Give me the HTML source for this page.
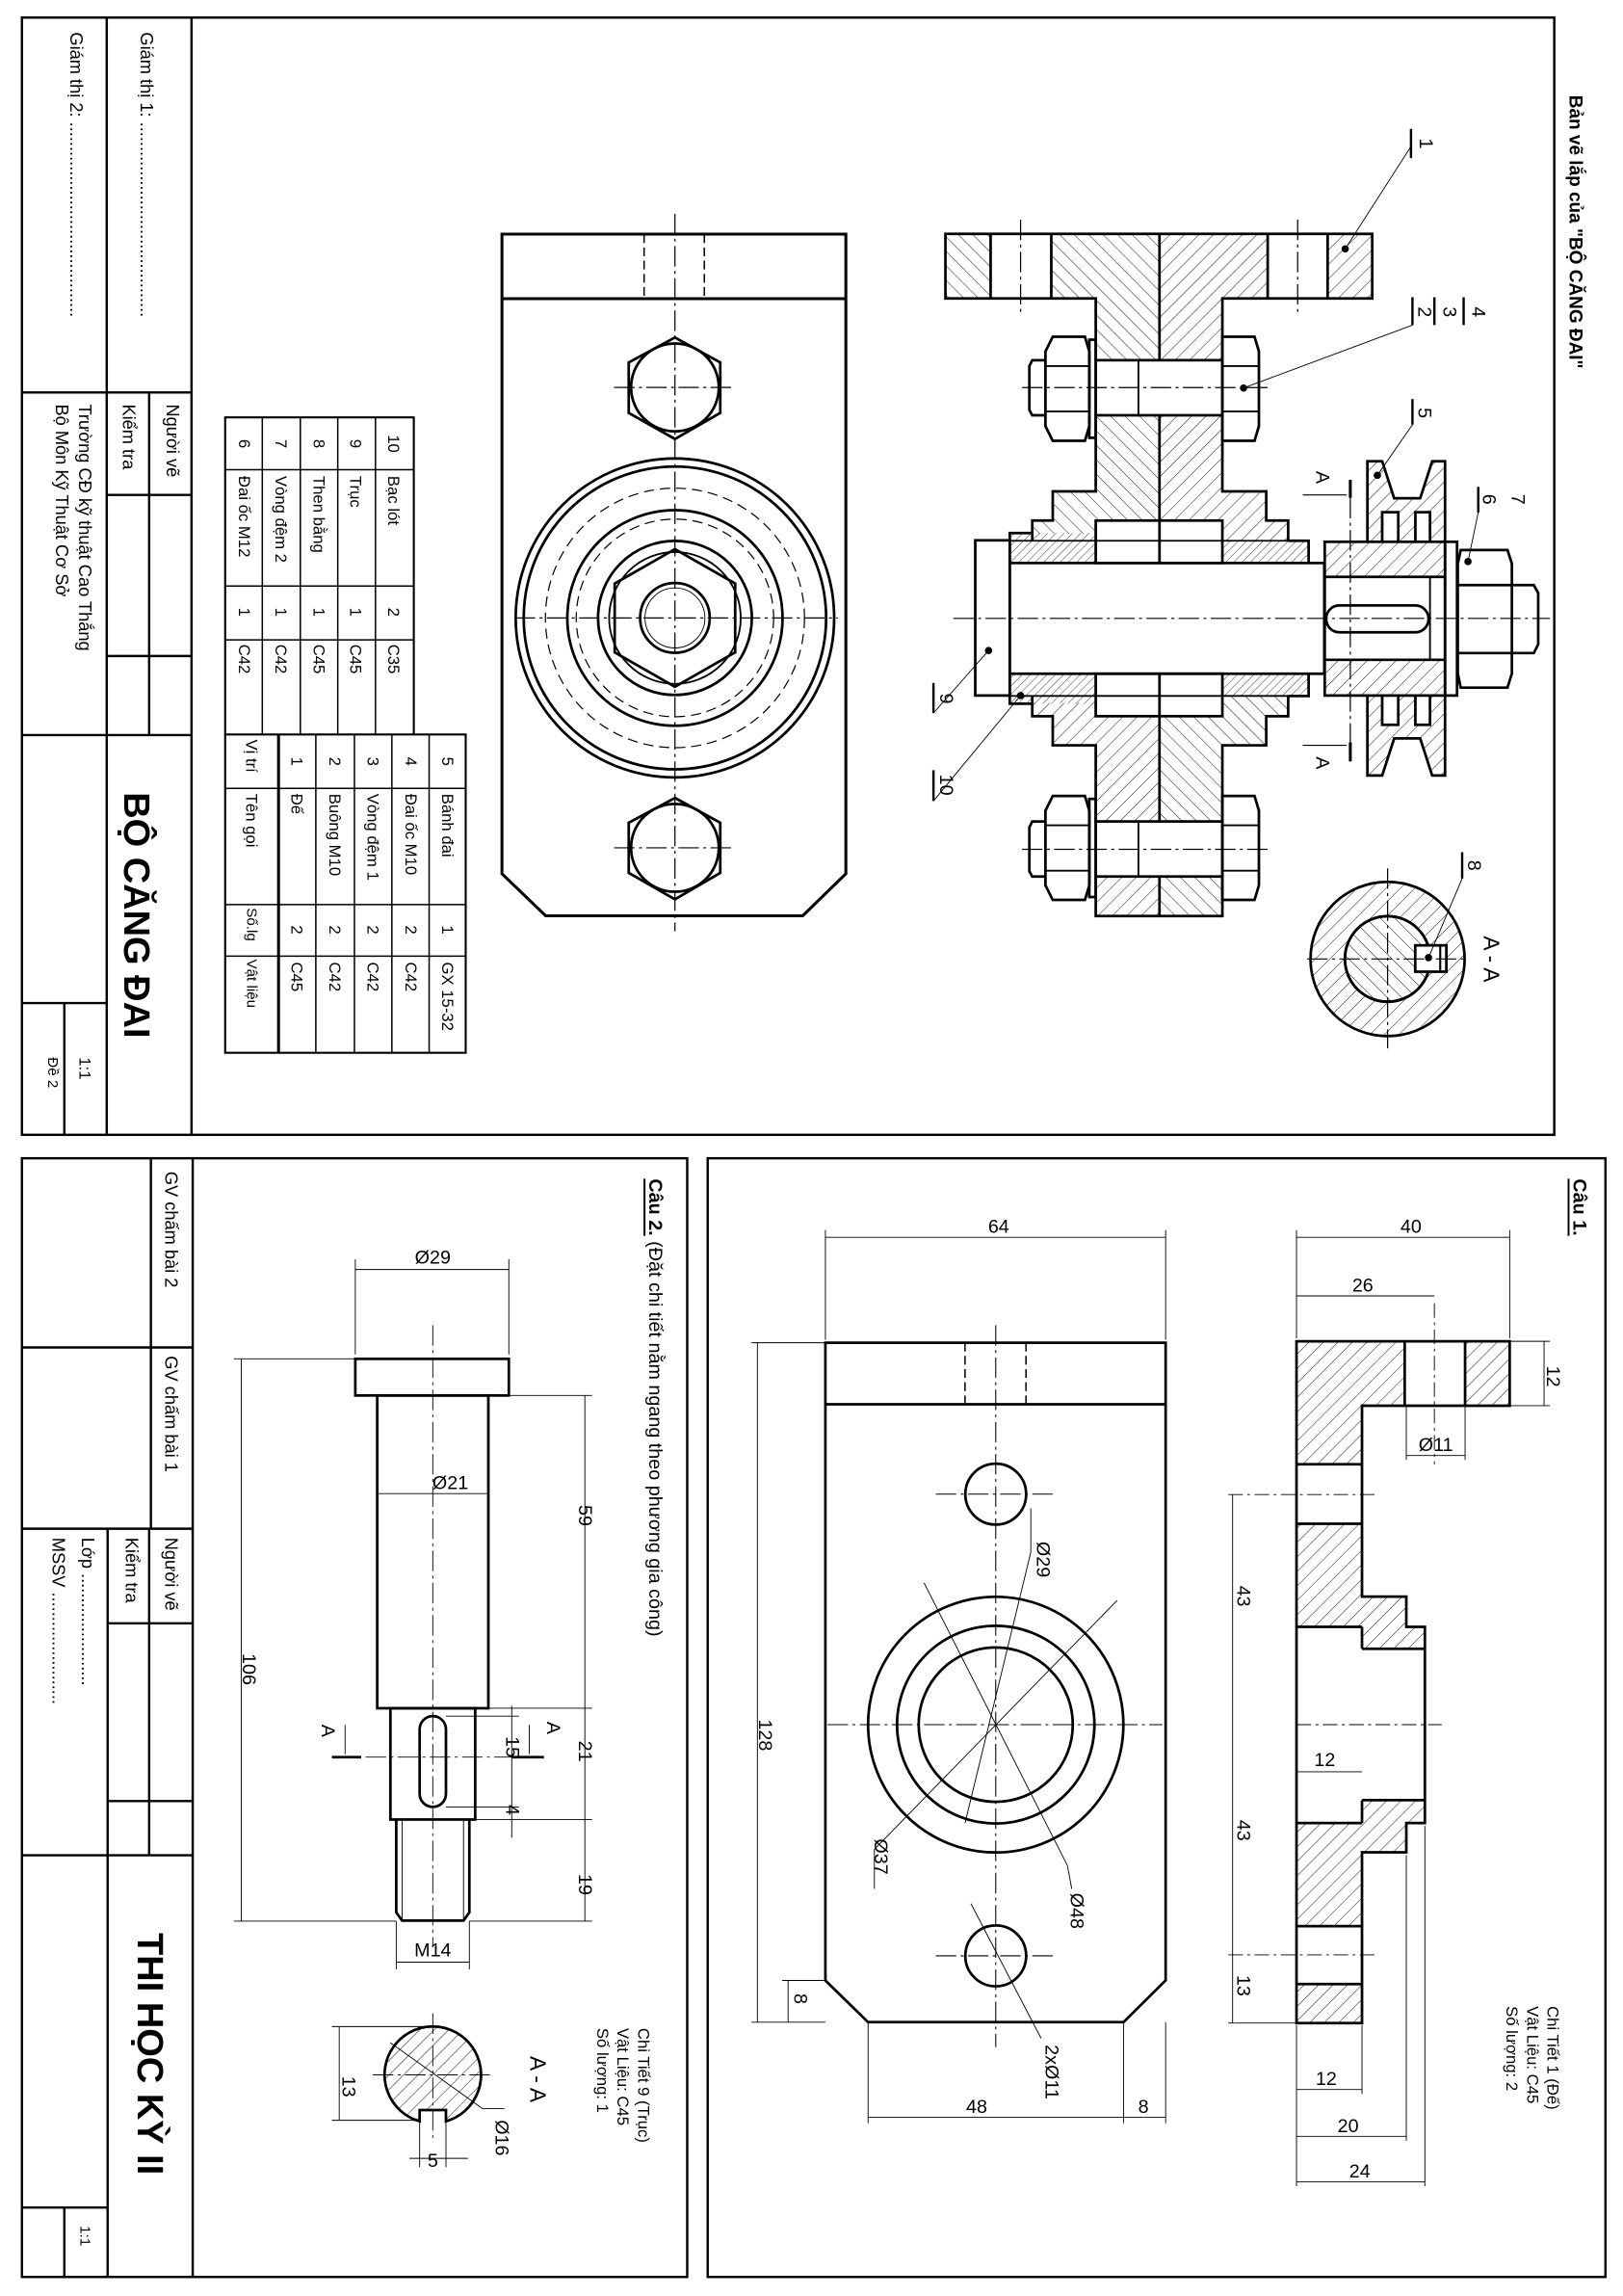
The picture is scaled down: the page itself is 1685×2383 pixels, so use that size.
<!DOCTYPE html>
<html><head><meta charset="utf-8"><style>
html,body{margin:0;padding:0;background:#fff;}
svg{display:block;}
text{font-family:"Liberation Sans","Noto Sans CJK SC",sans-serif;fill:#000;}
</style></head><body>
<svg xmlns="http://www.w3.org/2000/svg" width="1685" height="2383" viewBox="0 0 1110 1568" preserveAspectRatio="none">
<defs>
<pattern id="h1" patternUnits="userSpaceOnUse" width="7" height="7" patternTransform="rotate(45)"><line x1="0" y1="0" x2="0" y2="7" stroke="#000" stroke-width="0.6"/></pattern>
<pattern id="h2" patternUnits="userSpaceOnUse" width="7" height="7" patternTransform="rotate(-45)"><line x1="0" y1="0" x2="0" y2="7" stroke="#000" stroke-width="0.6"/></pattern>
<pattern id="h3" patternUnits="userSpaceOnUse" width="4" height="4" patternTransform="rotate(45)"><line x1="0" y1="0" x2="0" y2="4" stroke="#000" stroke-width="0.5"/></pattern>
</defs>
<rect width="1110" height="1568" fill="#fff"/>

<!-- ================= TOP FRAME ================= -->
<g fill="none" stroke="#000" stroke-width="1.6">
<rect x="15" y="12" width="1048" height="763"/>
<line x1="73" y1="12" x2="73" y2="775"/>
<line x1="131" y1="12" x2="131" y2="775"/>
<line x1="15" y1="268" x2="131" y2="268"/>
<line x1="102" y1="268" x2="102" y2="502"/>
<line x1="73" y1="338" x2="131" y2="338"/>
<line x1="73" y1="448" x2="131" y2="448"/>
<line x1="15" y1="502" x2="131" y2="502"/>
<line x1="15" y1="685" x2="73" y2="685"/>
<line x1="44" y1="685" x2="44" y2="775"/>
</g>
<g font-size="12">
<text transform="translate(100 22) rotate(90)" dominant-baseline="central">Giám thị 1: ........................................</text>
<text transform="translate(52 22) rotate(90)" dominant-baseline="central">Giám thị 2: ........................................</text>
<text transform="translate(118 276) rotate(90)" dominant-baseline="central">Người vẽ</text>
<text transform="translate(88 276) rotate(90)" dominant-baseline="central">Kiểm tra</text>
<text transform="translate(58 276) rotate(90)" dominant-baseline="central">Trường CĐ kỹ thuật Cao Thắng</text>
<text transform="translate(42 276) rotate(90)" dominant-baseline="central">Bộ Môn Kỹ Thuật Cơ Sở</text>
<text transform="translate(58 722) rotate(90)" dominant-baseline="central" font-size="11">1:1</text>
<text transform="translate(36 722) rotate(90)" dominant-baseline="central" font-size="10">Đề 2</text>
</g>
<text transform="translate(93 541) rotate(90)" dominant-baseline="central" font-size="25" font-weight="bold">BỘ CĂNG ĐAI</text>
<text transform="translate(1077 65) rotate(90)" dominant-baseline="central" font-size="12.5" font-weight="bold">Bản vẽ lắp của "BỘ CĂNG ĐAI"</text>

<!-- parts table -->
<g fill="none" stroke="#000" stroke-width="1.4">
<polyline points="283,501.6 283,285 154,285 154,719 318.5,719 318.5,501.6 154,501.6"/>
<line x1="190.5" y1="501.6" x2="190.5" y2="719" stroke-width="2"/>
</g>
<g fill="none" stroke="#000" stroke-width="1">
<line x1="179.4" y1="285" x2="179.4" y2="501.6"/>
<line x1="205.4" y1="285" x2="205.4" y2="501.6"/>
<line x1="231" y1="285" x2="231" y2="501.6"/>
<line x1="256.8" y1="285" x2="256.8" y2="501.6"/>
<line x1="154" y1="320.8" x2="283" y2="320.8"/>
<line x1="154" y1="400.2" x2="283" y2="400.2"/>
<line x1="154" y1="437" x2="283" y2="437"/>
<line x1="216" y1="501.6" x2="216" y2="719"/>
<line x1="242.4" y1="501.6" x2="242.4" y2="719"/>
<line x1="268" y1="501.6" x2="268" y2="719"/>
<line x1="293.5" y1="501.6" x2="293.5" y2="719"/>
<line x1="154" y1="538.4" x2="318.5" y2="538.4"/>
<line x1="154" y1="617.8" x2="318.5" y2="617.8"/>
<line x1="154" y1="653" x2="318.5" y2="653"/>
</g>
<g font-size="11">
<text transform="translate(269 303) rotate(90)" text-anchor="middle" dominant-baseline="central">10</text>
<text transform="translate(269 325) rotate(90)" dominant-baseline="central">Bạc lót</text>
<text transform="translate(269 418) rotate(90)" text-anchor="middle" dominant-baseline="central">2</text>
<text transform="translate(269 440) rotate(90)" dominant-baseline="central">C35</text>
<text transform="translate(243 303) rotate(90)" text-anchor="middle" dominant-baseline="central">9</text>
<text transform="translate(243 325) rotate(90)" dominant-baseline="central">Trục</text>
<text transform="translate(243 418) rotate(90)" text-anchor="middle" dominant-baseline="central">1</text>
<text transform="translate(243 440) rotate(90)" dominant-baseline="central">C45</text>
<text transform="translate(218 303) rotate(90)" text-anchor="middle" dominant-baseline="central">8</text>
<text transform="translate(218 325) rotate(90)" dominant-baseline="central">Then bằng</text>
<text transform="translate(218 418) rotate(90)" text-anchor="middle" dominant-baseline="central">1</text>
<text transform="translate(218 440) rotate(90)" dominant-baseline="central">C45</text>
<text transform="translate(192 303) rotate(90)" text-anchor="middle" dominant-baseline="central">7</text>
<text transform="translate(192 325) rotate(90)" dominant-baseline="central">Vòng đệm 2</text>
<text transform="translate(192 418) rotate(90)" text-anchor="middle" dominant-baseline="central">1</text>
<text transform="translate(192 440) rotate(90)" dominant-baseline="central">C42</text>
<text transform="translate(167 303) rotate(90)" text-anchor="middle" dominant-baseline="central">6</text>
<text transform="translate(167 325) rotate(90)" dominant-baseline="central">Đai ốc M12</text>
<text transform="translate(167 418) rotate(90)" text-anchor="middle" dominant-baseline="central">1</text>
<text transform="translate(167 440) rotate(90)" dominant-baseline="central">C42</text>

<text transform="translate(306 520) rotate(90)" text-anchor="middle" dominant-baseline="central">5</text>
<text transform="translate(306 542) rotate(90)" dominant-baseline="central">Bánh đai</text>
<text transform="translate(306 635) rotate(90)" text-anchor="middle" dominant-baseline="central">1</text>
<text transform="translate(306 657) rotate(90)" dominant-baseline="central">GX 15-32</text>
<text transform="translate(281 520) rotate(90)" text-anchor="middle" dominant-baseline="central">4</text>
<text transform="translate(281 542) rotate(90)" dominant-baseline="central">Đai ốc M10</text>
<text transform="translate(281 635) rotate(90)" text-anchor="middle" dominant-baseline="central">2</text>
<text transform="translate(281 657) rotate(90)" dominant-baseline="central">C42</text>
<text transform="translate(255 520) rotate(90)" text-anchor="middle" dominant-baseline="central">3</text>
<text transform="translate(255 542) rotate(90)" dominant-baseline="central">Vòng đệm 1</text>
<text transform="translate(255 635) rotate(90)" text-anchor="middle" dominant-baseline="central">2</text>
<text transform="translate(255 657) rotate(90)" dominant-baseline="central">C42</text>
<text transform="translate(229 520) rotate(90)" text-anchor="middle" dominant-baseline="central">2</text>
<text transform="translate(229 542) rotate(90)" dominant-baseline="central">Buông M10</text>
<text transform="translate(229 635) rotate(90)" text-anchor="middle" dominant-baseline="central">2</text>
<text transform="translate(229 657) rotate(90)" dominant-baseline="central">C42</text>
<text transform="translate(203 520) rotate(90)" text-anchor="middle" dominant-baseline="central">1</text>
<text transform="translate(203 542) rotate(90)" dominant-baseline="central">Đế</text>
<text transform="translate(203 635) rotate(90)" text-anchor="middle" dominant-baseline="central">2</text>
<text transform="translate(203 657) rotate(90)" dominant-baseline="central">C45</text>
<text transform="translate(172 505) rotate(90)" dominant-baseline="central">Vị trí</text>
<text transform="translate(172 542) rotate(90)" dominant-baseline="central">Tên gọi</text>
<text transform="translate(172 620) rotate(90)" dominant-baseline="central" font-size="10">Số.lg</text>
<text transform="translate(172 655) rotate(90)" dominant-baseline="central" font-size="10">Vật liệu</text>
</g>

<!-- front view (top) -->
<g fill="none" stroke="#000">
<polygon points="343.3,159.9 578.5,159.9 578.5,596.7 549,625.4 373.2,625.4 343.3,596.7" stroke-width="2"/>
<line x1="343.3" y1="204" x2="578.5" y2="204" stroke-width="2"/>
<line x1="440.5" y1="160" x2="440.5" y2="204" stroke-width="1" stroke-dasharray="6 3"/>
<line x1="481.7" y1="160" x2="481.7" y2="204" stroke-width="1" stroke-dasharray="6 3"/>
<line x1="461.6" y1="146" x2="461.6" y2="636" stroke-width="0.8" stroke-dasharray="14 3 2 3"/>
<line x1="352" y1="422" x2="573" y2="422" stroke-width="0.8" stroke-dasharray="14 3 2 3"/>
<line x1="420" y1="264.6" x2="503" y2="264.6" stroke-width="0.8" stroke-dasharray="14 3 2 3"/>
<line x1="420" y1="579" x2="503" y2="579" stroke-width="0.8" stroke-dasharray="14 3 2 3"/>
<polygon points="461.6,230.5 492.6,247.5 492.6,282 461.6,299.8 430,282 430,247.5" stroke-width="1.8"/>
<circle cx="461.6" cy="264.6" r="30" stroke-width="1.8"/>
<polygon points="461.6,544.9 492.6,561.9 492.6,596.1 461.6,614.2 430,596.1 430,561.9" stroke-width="1.8"/>
<circle cx="461.6" cy="579" r="30" stroke-width="1.8"/>
<circle cx="461.6" cy="422" r="108.9" stroke-width="1.8"/>
<circle cx="461.6" cy="422" r="103.4" stroke-width="1.8"/>
<circle cx="461.6" cy="422" r="88.6" stroke-width="0.8" stroke-dasharray="7 4"/>
<circle cx="461.6" cy="422" r="73.6" stroke-width="1.8"/>
<circle cx="461.6" cy="422" r="67.5" stroke-width="0.8" stroke-dasharray="7 4"/>
<circle cx="461.6" cy="422" r="52.6" stroke-width="1.8"/>
<polygon points="461.6,375 502.8,398.5 502.8,445.5 461.6,469 420.4,445.5 420.4,398.5" stroke-width="1.8"/>
<circle cx="461.6" cy="422" r="45" stroke-width="1.2"/>
<circle cx="461.6" cy="422" r="23.8" stroke-width="1.8"/>
<circle cx="461.6" cy="422" r="20.5" stroke-width="0.6"/>
</g>

<!-- section view (top) -->
<g stroke="none">
<rect x="646.6" y="159.7" width="30.9" height="44.1" fill="url(#h2)"/>
<rect x="719" y="159.7" width="74" height="44.1" fill="url(#h2)"/>
<rect x="793" y="159.7" width="74" height="44.1" fill="url(#h1)"/>
<rect x="908" y="159.7" width="30.5" height="44.1" fill="url(#h1)"/>
<rect x="749.4" y="203.8" width="43.6" height="42.2" fill="url(#h2)"/>
<rect x="793" y="203.8" width="43" height="42.2" fill="url(#h1)"/>
<rect x="749.4" y="283.6" width="43.6" height="52" fill="url(#h2)"/>
<rect x="793" y="283.6" width="43" height="52" fill="url(#h1)"/>
<rect x="720" y="335.6" width="73" height="19.9" fill="url(#h2)"/>
<rect x="793" y="335.6" width="73" height="19.9" fill="url(#h1)"/>
<rect x="706" y="355.5" width="43.4" height="9" fill="url(#h2)"/>
<rect x="836" y="355.5" width="45" height="13.8" fill="url(#h1)"/>
<rect x="690.6" y="364" width="58.8" height="20.5" fill="url(#h3)"/>
<rect x="836" y="369.3" width="59" height="15.2" fill="url(#h3)"/>
<rect x="690.6" y="460.1" width="58.8" height="20.5" fill="url(#h3)"/>
<rect x="836" y="460.1" width="59" height="15.2" fill="url(#h3)"/>
<rect x="706" y="480.1" width="43.4" height="9" fill="url(#h1)"/>
<rect x="836" y="475.3" width="45" height="13.8" fill="url(#h2)"/>
<rect x="720" y="489.1" width="73" height="19.9" fill="url(#h1)"/>
<rect x="793" y="489.1" width="73" height="19.9" fill="url(#h2)"/>
<rect x="749.4" y="509" width="43.6" height="52" fill="url(#h1)"/>
<rect x="793" y="509" width="43" height="52" fill="url(#h2)"/>
<rect x="749.4" y="598.6" width="43.6" height="27" fill="url(#h1)"/>
<rect x="793" y="598.6" width="43" height="27" fill="url(#h2)"/>
<rect x="906" y="370" width="82" height="24" fill="url(#h1)"/>
<rect x="906" y="450.6" width="82" height="24.4" fill="url(#h1)"/>
<polygon points="935.2,315 945.3,315 953.5,340.3 971.3,340.3 979.5,315 988.3,315 988.3,370 935.2,370" fill="url(#h1)"/>
<polygon points="935.2,529.6 945.3,529.6 953.5,504.3 971.3,504.3 979.5,529.6 988.3,529.6 988.3,475 935.2,475" fill="url(#h1)"/>
<rect x="945.3" y="349.8" width="11" height="20.2" fill="#fff"/>
<rect x="968" y="349.8" width="10" height="20.2" fill="#fff"/>
<rect x="945.3" y="475" width="11" height="20" fill="#fff"/>
<rect x="968" y="475" width="10" height="20" fill="#fff"/>
</g>
<g fill="none" stroke="#000" stroke-width="1.8">
<polyline points="749.4,246 749.4,203.8 646.6,203.8 646.6,159.7 938.5,159.7 938.5,203.8 836,203.8 836,246"/>
<line x1="677.5" y1="159.7" x2="677.5" y2="203.8"/>
<line x1="719" y1="159.7" x2="719" y2="203.8"/>
<line x1="867" y1="159.7" x2="867" y2="203.8"/>
<line x1="908" y1="159.7" x2="908" y2="203.8"/>
<line x1="793" y1="159.7" x2="793" y2="246"/>
<line x1="793" y1="283.6" x2="793" y2="384.5"/>
<line x1="793" y1="460.1" x2="793" y2="561"/>
<line x1="793" y1="598.6" x2="793" y2="625.6"/>
<polyline points="749.4,283.6 749.4,335.6 720,335.6 720,355.5 706,355.5 706,369.3"/>
<polyline points="836,283.6 836,335.6 866,335.6 866,355.5 881,355.5 881,369.3"/>
<polyline points="690.6,384.5 690.6,364 706,364"/>
<line x1="690.6" y1="369.3" x2="895" y2="369.3" stroke-width="1.2"/>
<polyline points="881,369.3 895,369.3 895,384.5"/>
<rect x="749.4" y="355.5" width="86.6" height="29"/>
<polyline points="749.4,561 749.4,509 720,509 720,489.1 706,489.1 706,475.3"/>
<polyline points="836,561 836,509 866,509 866,489.1 881,489.1 881,475.3"/>
<polyline points="690.6,460.1 690.6,480.6 706,480.6"/>
<line x1="690.6" y1="475.3" x2="895" y2="475.3" stroke-width="1.2"/>
<polyline points="881,475.3 895,475.3 895,460.1"/>
<rect x="749.4" y="460.1" width="86.6" height="29"/>
<polyline points="749.4,598.6 749.4,625.6 836,625.6 836,598.6"/>
<rect x="690.6" y="384.5" width="215.1" height="75.6"/>
<rect x="667" y="369" width="23.6" height="106"/>
<rect x="749.4" y="246" width="86.6" height="37.6"/>
<line x1="778.6" y1="246" x2="778.6" y2="283.6" stroke-width="1.2"/>
<path d="M715 240 L720 230 L742 230 L745 240 L745 291 L742 301 L720 301 L715 291 Z"/>
<line x1="715" y1="250" x2="745" y2="250" stroke-width="1.2"/>
<line x1="715" y1="281" x2="745" y2="281" stroke-width="1.2"/>
<rect x="745" y="232" width="4.4" height="67"/>
<path d="M715 246 L706 246 L704 250 L704 280 L706 283.6 L715 283.6"/>
<path d="M836 230 L858 230 L861 240 L861 291 L858 301 L836 301 Z"/>
<line x1="836" y1="250" x2="861" y2="250" stroke-width="1.2"/>
<line x1="836" y1="281" x2="861" y2="281" stroke-width="1.2"/>
<rect x="749.4" y="561" width="86.6" height="37.6"/>
<line x1="778.6" y1="561" x2="778.6" y2="598.6" stroke-width="1.2"/>
<path d="M715 553.6 L720 543.6 L742 543.6 L745 553.6 L745 604.6 L742 614.6 L720 614.6 L715 604.6 Z"/>
<line x1="715" y1="563.6" x2="745" y2="563.6" stroke-width="1.2"/>
<line x1="715" y1="594.6" x2="745" y2="594.6" stroke-width="1.2"/>
<rect x="745" y="545.6" width="4.4" height="67"/>
<path d="M715 561 L706 561 L704 565 L704 595 L706 598.6 L715 598.6"/>
<path d="M836 543.6 L858 543.6 L861 553.6 L861 604.6 L858 614.6 L836 614.6 Z"/>
<line x1="836" y1="563.6" x2="861" y2="563.6" stroke-width="1.2"/>
<line x1="836" y1="594.6" x2="861" y2="594.6" stroke-width="1.2"/>
<rect x="906" y="370" width="82.3" height="105"/>
<line x1="906" y1="394" x2="988" y2="394"/>
<line x1="906" y1="450.6" x2="988" y2="450.6"/>
<rect x="988.3" y="370" width="8.2" height="105"/>
<line x1="978" y1="394" x2="978" y2="450.6" stroke-width="1.2"/>
<polyline points="935.2,370 935.2,315 945.3,315 953.5,340.3 971.3,340.3 979.5,315 988.3,315 988.3,370"/>
<polyline points="945.3,370 945.3,349.8 956.3,349.8 956.3,370"/>
<polyline points="968,370 968,349.8 978,349.8 978,370"/>
<polyline points="935.2,475 935.2,529.6 945.3,529.6 953.5,504.3 971.3,504.3 979.5,529.6 988.3,529.6 988.3,475"/>
<polyline points="945.3,475 945.3,495 956.3,495 956.3,475"/>
<polyline points="968,475 968,495 978,495 978,475"/>
<rect x="907" y="413.5" width="70" height="18.3" rx="9"/>
<path d="M999 375.6 L1031 375.6 L1034 385 L1034 460 L1031 469.6 L999 469.6 L997 460 L997 385 Z"/>
<line x1="997" y1="399.6" x2="1034" y2="399.6"/>
<line x1="997" y1="446" x2="1034" y2="446"/>
<path d="M1034 399.6 L1049 399.6 L1052 405 L1052 440 L1049 446 L1034 446"/>
<circle cx="949" cy="654.9" r="52.7" fill="url(#h1)"/>
<circle cx="949" cy="654.9" r="29.2" fill="#fff"/>
<circle cx="949" cy="654.9" r="29.2" fill="url(#h2)"/>
<rect x="967.9" y="645.6" width="21.3" height="18" fill="#fff"/>
<line x1="985" y1="645.6" x2="985" y2="663.6" stroke-width="1.4"/>
</g>
<g fill="none" stroke="#000" stroke-width="0.8" stroke-dasharray="14 3 2 3">
<line x1="652" y1="422.3" x2="1060" y2="422.3"/>
<line x1="699" y1="264.7" x2="869" y2="264.7"/>
<line x1="699" y1="580" x2="869" y2="580"/>
<line x1="698" y1="150" x2="698" y2="213"/>
<line x1="887.5" y1="150" x2="887.5" y2="213"/>
<line x1="949" y1="593" x2="949" y2="716"/>
<line x1="894" y1="654.9" x2="1004" y2="654.9"/>
<line x1="923.5" y1="340" x2="923.5" y2="507"/>
</g>
<g stroke="#000" fill="none">
<line x1="923.5" y1="327.7" x2="923.5" y2="340" stroke-width="2"/>
<line x1="923.5" y1="507" x2="923.5" y2="520" stroke-width="2"/>
<line x1="891" y1="338" x2="921" y2="338" stroke-width="0.7"/>
<line x1="891" y1="509" x2="921" y2="509" stroke-width="0.7"/>
<line x1="965" y1="100" x2="920" y2="170" stroke-width="0.6"/>
<line x1="966" y1="222" x2="850.5" y2="265" stroke-width="0.6"/>
<line x1="966" y1="290" x2="942" y2="324.6" stroke-width="0.6"/>
<line x1="1011" y1="350" x2="1004" y2="383.5" stroke-width="0.6"/>
<line x1="638.4" y1="487" x2="676.1" y2="444.3" stroke-width="0.6"/>
<line x1="638.4" y1="547" x2="698" y2="475" stroke-width="0.6"/>
<line x1="1000" y1="600" x2="977" y2="654" stroke-width="0.6"/>
<g stroke-width="1.6">
<line x1="965" y1="88" x2="965" y2="108"/>
<line x1="966" y1="203" x2="966" y2="222"/>
<line x1="981" y1="203" x2="981" y2="222"/>
<line x1="1001" y1="203" x2="1001" y2="222"/>
<line x1="966" y1="272.5" x2="966" y2="290"/>
<line x1="1011" y1="332.5" x2="1011" y2="350"/>
<line x1="638.4" y1="466.4" x2="638.4" y2="487"/>
<line x1="638.4" y1="526" x2="638.4" y2="547"/>
<line x1="1000" y1="582" x2="1000" y2="600"/>
</g>
</g>
<g fill="#000">
<circle cx="920" cy="170" r="2.5"/><circle cx="850.5" cy="265" r="2.5"/><circle cx="942" cy="324.6" r="2.5"/>
<circle cx="1004" cy="383.5" r="2.5"/><circle cx="676.1" cy="444.3" r="2.5"/><circle cx="698" cy="475" r="2.5"/><circle cx="977" cy="654" r="2.5"/>
</g>
<g font-size="13">
<text transform="translate(975 98) rotate(90)" text-anchor="middle" dominant-baseline="central">1</text>
<text transform="translate(974 213) rotate(90)" text-anchor="middle" dominant-baseline="central">2</text>
<text transform="translate(991 213) rotate(90)" text-anchor="middle" dominant-baseline="central">3</text>
<text transform="translate(1011 213) rotate(90)" text-anchor="middle" dominant-baseline="central">4</text>
<text transform="translate(974 282) rotate(90)" text-anchor="middle" dominant-baseline="central">5</text>
<text transform="translate(1018 341) rotate(90)" text-anchor="middle" dominant-baseline="central">6</text>
<text transform="translate(1038 341) rotate(90)" text-anchor="middle" dominant-baseline="central">7</text>
<text transform="translate(647 477) rotate(90)" text-anchor="middle" dominant-baseline="central">9</text>
<text transform="translate(647 536) rotate(90)" text-anchor="middle" dominant-baseline="central">10</text>
<text transform="translate(1008 591) rotate(90)" text-anchor="middle" dominant-baseline="central">8</text>
<text transform="translate(904 326) rotate(90)" text-anchor="middle" dominant-baseline="central">A</text>
<text transform="translate(904 521) rotate(90)" text-anchor="middle" dominant-baseline="central">A</text>
<text transform="translate(1020 655) rotate(90)" text-anchor="middle" dominant-baseline="central" font-size="15">A - A</text>
</g>

<!-- ================= BOTTOM LEFT FRAME ================= -->
<g fill="none" stroke="#000" stroke-width="1.6">
<rect x="15" y="791" width="455" height="764"/>
<line x1="131.8" y1="791" x2="131.8" y2="1555"/>
<line x1="103.2" y1="791" x2="103.2" y2="1044"/>
<line x1="15" y1="920.2" x2="131.8" y2="920.2"/>
<line x1="15" y1="1044" x2="131.8" y2="1044"/>
<line x1="73.6" y1="1044" x2="73.6" y2="1555"/>
<line x1="102" y1="1044" x2="102" y2="1267"/>
<line x1="73.6" y1="1108.6" x2="131.8" y2="1108.6"/>
<line x1="73.6" y1="1230" x2="131.8" y2="1230"/>
<line x1="15" y1="1267" x2="131.8" y2="1267"/>
<line x1="15" y1="1507.6" x2="73.6" y2="1507.6"/>
<line x1="44" y1="1507.6" x2="44" y2="1555"/>
</g>
<g font-size="12">
<text transform="translate(117 800) rotate(90)" dominant-baseline="central">GV chấm bài 2</text>
<text transform="translate(117 926) rotate(90)" dominant-baseline="central">GV chấm bài 1</text>
<text transform="translate(117 1050) rotate(90)" dominant-baseline="central">Người vẽ</text>
<text transform="translate(90 1050) rotate(90)" dominant-baseline="central">Kiểm tra</text>
<text transform="translate(60 1050) rotate(90)" dominant-baseline="central">Lớp .......................</text>
<text transform="translate(40 1050) rotate(90)" dominant-baseline="central">MSSV .......................</text>
<text transform="translate(58 1520) rotate(90)" dominant-baseline="central" font-size="10">1:1</text>
</g>
<text transform="translate(102 1320) rotate(90)" dominant-baseline="central" font-size="25" font-weight="bold">THI HỌC KỲ II</text>
<text transform="translate(448 805) rotate(90)" dominant-baseline="central" font-size="13"><tspan font-weight="bold" text-decoration="underline">Câu 2.</tspan> (Đặt chi tiết nằm ngang theo phương gia công)</text>
<g font-size="11">
<text transform="translate(440 1385) rotate(90)" dominant-baseline="central">Chi Tiết 9 (Trục)</text>
<text transform="translate(426 1385) rotate(90)" dominant-baseline="central">Vật Liệu: C45</text>
<text transform="translate(412 1385) rotate(90)" dominant-baseline="central">Số lượng: 1</text>
</g>
<!-- shaft -->
<g fill="none" stroke="#000" stroke-width="1.8">
<rect x="243" y="928" width="105" height="25"/>
<rect x="258" y="953" width="76" height="213.6"/>
<rect x="267" y="1166.6" width="58" height="76"/>
<path d="M271 1242.6 L271 1306 L275 1311.6 L317 1311.6 L321 1306 L321 1242.6"/>
<rect x="287" y="1172" width="18" height="62" rx="9"/>
</g>
<path d="M287 1448.7 L287 1441 L305 1441 L305 1448.7 A33 33 0 1 0 287 1448.7 Z" fill="url(#h1)" stroke="#000" stroke-width="1.8"/>
<g fill="none" stroke="#000" stroke-width="0.6">
<line x1="275" y1="1242.6" x2="275" y2="1311" /><line x1="317" y1="1242.6" x2="317" y2="1311"/>
<line x1="296" y1="905" x2="296" y2="1330" stroke-dasharray="14 3 2 3"/>
<line x1="255" y1="1417" x2="338" y2="1417" stroke-dasharray="14 3 2 3"/>
<line x1="296" y1="1375" x2="296" y2="1460" stroke-dasharray="14 3 2 3"/>
<line x1="228" y1="1200" x2="370" y2="1200" stroke-dasharray="14 3 2 3"/>
<line x1="243" y1="925" x2="243" y2="860"/><line x1="348" y1="925" x2="348" y2="860"/>
<line x1="243" y1="867" x2="348" y2="867"/>
<line x1="258" y1="1020" x2="334" y2="1020"/>
<line x1="243" y1="928" x2="160" y2="928"/><line x1="165" y1="928" x2="165" y2="1312"/>
<line x1="271" y1="1312" x2="160" y2="1312"/>
<line x1="321" y1="1312" x2="405" y2="1312"/>
<line x1="348" y1="953" x2="405" y2="953"/><line x1="334" y1="1166.6" x2="405" y2="1166.6"/><line x1="325" y1="1242.6" x2="405" y2="1242.6"/>
<line x1="400" y1="953" x2="400" y2="1312"/>
<line x1="305" y1="1172" x2="355" y2="1172"/><line x1="305" y1="1234" x2="355" y2="1234"/>
<line x1="350" y1="1165" x2="350" y2="1255"/>
<line x1="271" y1="1312" x2="271" y2="1345"/><line x1="321" y1="1312" x2="321" y2="1345"/>
<line x1="271" y1="1340" x2="321" y2="1340"/>
<line x1="227" y1="1384" x2="296" y2="1384"/><line x1="227" y1="1448" x2="287" y2="1448"/><line x1="232" y1="1384" x2="232" y2="1448"/>
<line x1="287" y1="1448" x2="287" y2="1480"/><line x1="305" y1="1448" x2="305" y2="1480"/>
<line x1="280" y1="1474" x2="320" y2="1474"/>
<line x1="267" y1="1395" x2="330" y2="1440"/><line x1="330" y1="1440" x2="345" y2="1440"/>
</g>
<g stroke="#000" stroke-width="1.8"><line x1="227" y1="1200" x2="247" y2="1200"/><line x1="350" y1="1200" x2="372" y2="1200"/></g>
<g stroke="#000" stroke-width="0.6"><line x1="236" y1="1178" x2="236" y2="1198"/><line x1="362" y1="1178" x2="362" y2="1198"/></g>
<g font-size="13">
<text x="296" y="863" text-anchor="middle">Ø29</text>
<text x="308" y="1017" text-anchor="middle">Ø21</text>
<text x="296" y="1336" text-anchor="middle">M14</text>
<text transform="translate(400 1035) rotate(90)" text-anchor="middle" dominant-baseline="central">59</text>
<text transform="translate(170 1140) rotate(90)" text-anchor="middle" dominant-baseline="central">106</text>
<text transform="translate(400 1196) rotate(90)" text-anchor="middle" dominant-baseline="central">21</text>
<text transform="translate(400 1287) rotate(90)" text-anchor="middle" dominant-baseline="central">19</text>
<text transform="translate(350 1193) rotate(90)" text-anchor="middle" dominant-baseline="central">15</text>
<text transform="translate(350 1236) rotate(90)" text-anchor="middle" dominant-baseline="central">4</text>
<text transform="translate(224 1182) rotate(90)" text-anchor="middle" dominant-baseline="central">A</text>
<text transform="translate(378 1180) rotate(90)" text-anchor="middle" dominant-baseline="central">A</text>
<text transform="translate(238 1425) rotate(90)" text-anchor="middle" dominant-baseline="central">13</text>
<text transform="translate(343 1460) rotate(90)" text-anchor="middle" dominant-baseline="central">Ø16</text>
<text x="296" y="1480" text-anchor="middle">5</text>
<text transform="translate(368 1420) rotate(90)" text-anchor="middle" dominant-baseline="central" font-size="15">A - A</text>
</g>

<!-- ================= BOTTOM RIGHT FRAME ================= -->
<rect x="484" y="791" width="614" height="764" fill="none" stroke="#000" stroke-width="1.6"/>
<text transform="translate(1080 805) rotate(90)" dominant-baseline="central" font-size="13" font-weight="bold" text-decoration="underline">Câu 1.</text>
<g font-size="11">
<text transform="translate(1062 1370) rotate(90)" dominant-baseline="central">Chi Tiết 1 (Đế)</text>
<text transform="translate(1048 1370) rotate(90)" dominant-baseline="central">Vật Liệu: C45</text>
<text transform="translate(1034 1370) rotate(90)" dominant-baseline="central">Số lượng: 2</text>
</g>
<g fill="none" stroke="#000" stroke-width="1.8">
<polygon points="564.5,917 797.2,917 797.2,1352.5 768.4,1381 593.7,1381 564.5,1352.5"/>
<line x1="564.5" y1="959" x2="797.2" y2="959"/>
<circle cx="681" cy="1020.4" r="20.8"/>
<circle cx="681" cy="1335.7" r="20.8"/>
<circle cx="681" cy="1177.8" r="87.3"/>
<circle cx="681" cy="1177.8" r="67.5"/>
<circle cx="681" cy="1177.8" r="52.7"/>
</g>
<g fill="none" stroke="#000" stroke-width="1">
<line x1="660" y1="917" x2="660" y2="959" stroke-dasharray="6 3"/>
<line x1="701.7" y1="917" x2="701.7" y2="959" stroke-dasharray="6 3"/>
</g>
<g fill="none" stroke="#000" stroke-width="0.7" stroke-dasharray="14 3 2 3">
<line x1="681" y1="905" x2="681" y2="1398"/>
<line x1="566" y1="1177.8" x2="795" y2="1177.8"/>
<line x1="640" y1="1020.4" x2="722" y2="1020.4"/>
<line x1="640" y1="1335.7" x2="722" y2="1335.7"/>
</g>
<g fill="none" stroke="#000" stroke-width="0.6">
<line x1="564.5" y1="915" x2="564.5" y2="840"/><line x1="797.2" y1="915" x2="797.2" y2="840"/><line x1="564.5" y1="845" x2="797.2" y2="845"/>
<line x1="564.5" y1="917" x2="514" y2="917"/><line x1="564.5" y1="1381" x2="514" y2="1381"/><line x1="518" y1="917" x2="518" y2="1381"/>
<line x1="564.5" y1="1352.5" x2="535" y2="1352.5"/><line x1="539" y1="1352.5" x2="539" y2="1381"/>
<line x1="593.7" y1="1381" x2="593.7" y2="1450"/><line x1="768.4" y1="1381" x2="768.4" y2="1450"/><line x1="797.2" y1="1381" x2="797.2" y2="1450"/>
<line x1="593.7" y1="1446" x2="797.2" y2="1446"/>
<line x1="632" y1="1081" x2="730" y2="1274"/>
<line x1="598" y1="1263" x2="764" y2="1093"/>
<line x1="660" y1="1245" x2="705" y2="1060"/><line x1="705" y1="1060" x2="705" y2="1030"/>
<line x1="598" y1="1263" x2="598" y2="1290"/>
<line x1="730" y1="1274" x2="733" y2="1290"/>
<line x1="664" y1="1300" x2="712" y2="1392"/>
</g>
<g font-size="13">
<text x="683" y="842" text-anchor="middle">64</text>
<text x="668" y="1443" text-anchor="middle">48</text>
<text x="782" y="1443" text-anchor="middle">8</text>
<text transform="translate(523 1185) rotate(90)" text-anchor="middle" dominant-baseline="central">128</text>
<text transform="translate(547 1365) rotate(90)" text-anchor="middle" dominant-baseline="central">8</text>
<text transform="translate(713 1065) rotate(90)" text-anchor="middle" dominant-baseline="central">Ø29</text>
<text transform="translate(602 1268) rotate(90)" text-anchor="middle" dominant-baseline="central">Ø37</text>
<text transform="translate(736 1305) rotate(90)" text-anchor="middle" dominant-baseline="central">Ø48</text>
<text transform="translate(719 1415) rotate(90)" text-anchor="middle" dominant-baseline="central">2xØ11</text>
</g>
<g stroke="none">
<polygon points="886.7,916 960.7,916 960.7,960 931.5,960 931.5,1000 886.7,1000" fill="url(#h1)"/>
<rect x="1002" y="916" width="30.5" height="44" fill="url(#h1)"/>
<polygon points="886.7,1040.6 931.5,1040.6 931.5,1090.4 961.8,1090.4 961.8,1111 974.5,1111 974.5,1126 931.5,1126 931.5,1111 886.7,1111" fill="url(#h1)"/>
<polygon points="931.5,1229.4 974.5,1229.4 974.5,1245 961.8,1245 961.8,1265 931.5,1265 931.5,1315.4 886.7,1315.4 886.7,1245 931.5,1245" fill="url(#h1)"/>
<rect x="886.7" y="1355" width="44.8" height="26.6" fill="url(#h1)"/>
</g>
<g fill="none" stroke="#000" stroke-width="1.8">
<polygon points="886.7,916 1032.5,916 1032.5,960 931.5,960 931.5,1090.4 961.8,1090.4 961.8,1111 974.5,1111 974.5,1245 961.8,1245 961.8,1265 931.5,1265 931.5,1381.6 886.7,1381.6"/>
<line x1="960.7" y1="916" x2="960.7" y2="960"/>
<line x1="1002" y1="916" x2="1002" y2="960"/>
<line x1="886.7" y1="1000" x2="931.5" y2="1000"/>
<line x1="886.7" y1="1040.6" x2="931.5" y2="1040.6"/>
<line x1="886.7" y1="1111" x2="931.5" y2="1111"/>
<line x1="931.5" y1="1111" x2="931.5" y2="1126"/>
<line x1="931.5" y1="1126" x2="974.5" y2="1126"/>
<line x1="931.5" y1="1229.4" x2="974.5" y2="1229.4"/>
<line x1="931.5" y1="1229.4" x2="931.5" y2="1245"/>
<line x1="886.7" y1="1245" x2="931.5" y2="1245"/>
<line x1="886.7" y1="1315.4" x2="931.5" y2="1315.4"/>
<line x1="886.7" y1="1355" x2="931.5" y2="1355"/>
</g>
<g fill="none" stroke="#000" stroke-width="0.6">
<line x1="981" y1="890" x2="981" y2="1000" stroke-dasharray="10 3 2 3"/>
<line x1="886.7" y1="1177.8" x2="986" y2="1177.8" stroke-dasharray="10 3 2 3"/>
<line x1="840" y1="1020.7" x2="942" y2="1020.7" stroke-dasharray="10 3 2 3"/>
<line x1="840" y1="1335" x2="942" y2="1335" stroke-dasharray="10 3 2 3"/>
<line x1="886.7" y1="914" x2="886.7" y2="840"/><line x1="1032.5" y1="914" x2="1032.5" y2="840"/>
<line x1="886.7" y1="845" x2="1032.5" y2="845"/>
<line x1="886.7" y1="885" x2="981" y2="885"/>
<line x1="1032.5" y1="916" x2="1060" y2="916"/><line x1="1032.5" y1="960" x2="1060" y2="960"/><line x1="1056" y1="916" x2="1056" y2="960"/>
<line x1="961.8" y1="960" x2="961.8" y2="997"/><line x1="1002" y1="960" x2="1002" y2="997"/><line x1="961.8" y1="994" x2="1002" y2="994"/>
<line x1="843" y1="1020.7" x2="843" y2="1381.6"/><line x1="840" y1="1381.6" x2="886.7" y2="1381.6"/>
<line x1="886.7" y1="1210" x2="931.5" y2="1210"/>
<line x1="886.7" y1="1383" x2="886.7" y2="1493"/>
<line x1="931.5" y1="1383" x2="931.5" y2="1430"/><line x1="886.7" y1="1427" x2="931.5" y2="1427"/>
<line x1="961.8" y1="1267" x2="961.8" y2="1462"/><line x1="886.7" y1="1459" x2="961.8" y2="1459"/>
<line x1="974.5" y1="1247" x2="974.5" y2="1493"/><line x1="886.7" y1="1490" x2="974.5" y2="1490"/>
</g>
<g font-size="13">
<text x="965" y="842" text-anchor="middle">40</text>
<text x="932" y="882" text-anchor="middle">26</text>
<text x="982" y="991" text-anchor="middle">Ø11</text>
<text x="906" y="1206" text-anchor="middle">12</text>
<text x="907" y="1424" text-anchor="middle">12</text>
<text x="922" y="1456" text-anchor="middle">20</text>
<text x="930" y="1487" text-anchor="middle">24</text>
<text transform="translate(1062 940) rotate(90)" text-anchor="middle" dominant-baseline="central">12</text>
<text transform="translate(850 1090) rotate(90)" text-anchor="middle" dominant-baseline="central">43</text>
<text transform="translate(850 1250) rotate(90)" text-anchor="middle" dominant-baseline="central">43</text>
<text transform="translate(850 1356) rotate(90)" text-anchor="middle" dominant-baseline="central">13</text>
</g>
</svg>
</body></html>
